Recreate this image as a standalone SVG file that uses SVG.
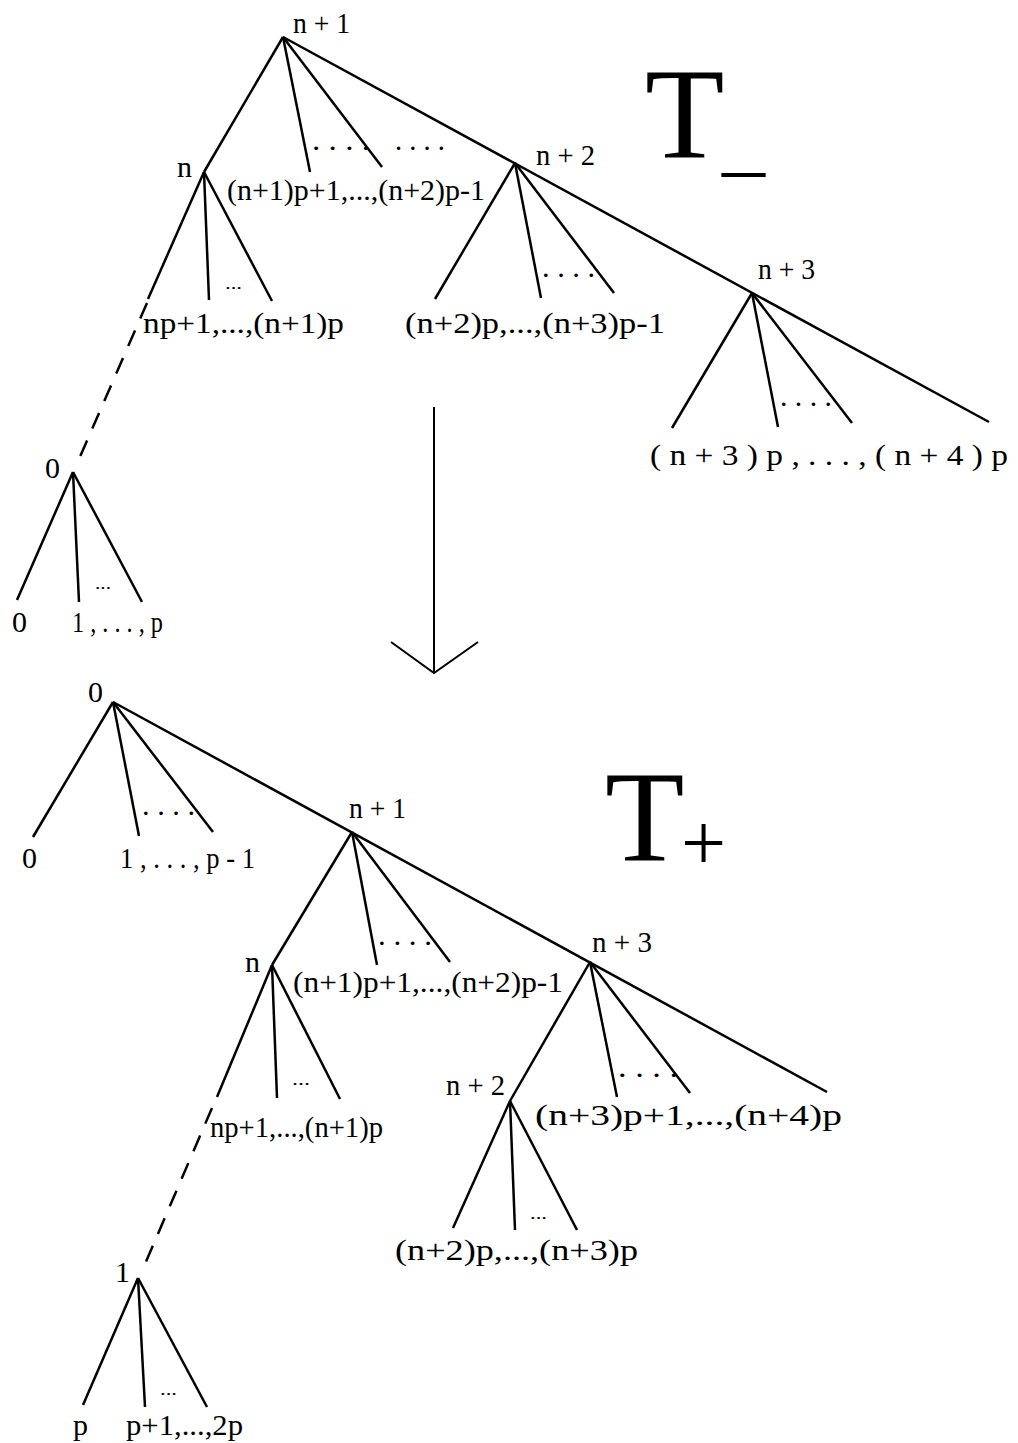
<svg xmlns="http://www.w3.org/2000/svg" width="1018" height="1443" viewBox="0 0 1018 1443">
<style>
text{font-family:"Liberation Serif","Times New Roman",serif;fill:#000}
.l{font-size:30px}
.s{font-size:16px}
.big{font-size:130px}
.sub{font-size:80px}
.e{stroke:#000;stroke-width:2.5;fill:none;stroke-linecap:butt}
.d{stroke-dasharray:17,13}
.a{stroke:#000;stroke-width:2;fill:none}
</style>
<rect width="1018" height="1443" fill="#fff"/>
<g id="connectors">
<line class="e" x1="283" y1="37" x2="204" y2="172"/>
<line class="e" x1="283" y1="37" x2="310" y2="172"/>
<line class="e" x1="283" y1="37" x2="382" y2="167"/>
<line class="e" x1="283" y1="37" x2="989" y2="422"/>
<line class="e" x1="204" y1="172" x2="148" y2="299"/>
<line class="e" x1="204" y1="172" x2="209" y2="300"/>
<line class="e" x1="204" y1="172" x2="272" y2="301"/>
<line class="e d" x1="147" y1="303" x2="76" y2="466"/>
<line class="e" x1="515" y1="163" x2="435" y2="299"/>
<line class="e" x1="515" y1="163" x2="541" y2="298"/>
<line class="e" x1="515" y1="163" x2="614" y2="293"/>
<line class="e" x1="752" y1="293" x2="672" y2="428"/>
<line class="e" x1="752" y1="293" x2="778" y2="427"/>
<line class="e" x1="752" y1="293" x2="852" y2="423"/>
<line class="e" x1="73" y1="472" x2="17" y2="600"/>
<line class="e" x1="73" y1="472" x2="79" y2="602"/>
<line class="e" x1="73" y1="472" x2="142" y2="602"/>
<line class="a" x1="434" y1="407" x2="434" y2="673"/>
<polyline class="a" points="391,642 434,673 478,642"/>
<line class="e" x1="113" y1="702" x2="33" y2="837"/>
<line class="e" x1="113" y1="702" x2="139" y2="836"/>
<line class="e" x1="113" y1="702" x2="213" y2="832"/>
<line class="e" x1="113" y1="702" x2="827" y2="1092"/>
<line class="e" x1="352" y1="832" x2="272" y2="965"/>
<line class="e" x1="352" y1="832" x2="377" y2="965"/>
<line class="e" x1="352" y1="832" x2="450" y2="962"/>
<line class="e" x1="272" y1="965" x2="217" y2="1097"/>
<line class="e" x1="272" y1="965" x2="277" y2="1098"/>
<line class="e" x1="272" y1="965" x2="340" y2="1099"/>
<line class="e d" x1="212" y1="1108" x2="142" y2="1271"/>
<line class="e" x1="590" y1="962" x2="510" y2="1101"/>
<line class="e" x1="590" y1="962" x2="617" y2="1097"/>
<line class="e" x1="590" y1="962" x2="690" y2="1093"/>
<line class="e" x1="510" y1="1101" x2="453" y2="1228"/>
<line class="e" x1="510" y1="1101" x2="515" y2="1230"/>
<line class="e" x1="510" y1="1101" x2="577" y2="1230"/>
<line class="e" x1="138" y1="1278" x2="83" y2="1405"/>
<line class="e" x1="138" y1="1278" x2="145" y2="1407"/>
<line class="e" x1="138" y1="1278" x2="207" y2="1407"/>
</g>
<g id="title-minus"><text class="big" x="645" y="157">T</text><text class="sub" x="722" y="167" textLength="43" lengthAdjust="spacingAndGlyphs">_</text></g>
<g id="title-plus"><text class="big" x="605" y="860">T</text><text class="sub" x="681" y="870">+</text></g>
<g id="top-n1"><text class="l" x="293" y="33" textLength="57" lengthAdjust="spacingAndGlyphs">n + 1</text>
<text class="l" x="312" y="150" textLength="58" lengthAdjust="spacingAndGlyphs">. . . .</text>
<text class="l" x="395" y="150" textLength="50" lengthAdjust="spacingAndGlyphs">. . . .</text>
<text class="l" x="227" y="200" textLength="258" lengthAdjust="spacingAndGlyphs">(n+1)p+1,...,(n+2)p-1</text></g>
<g id="top-n"><text class="l" x="177" y="177">n</text>
<text class="s" x="225" y="289" textLength="17" lengthAdjust="spacingAndGlyphs">...</text>
<text class="l" x="143" y="333" textLength="201" lengthAdjust="spacingAndGlyphs">np+1,...,(n+1)p</text></g>
<g id="top-n2"><text class="l" x="536" y="165" textLength="59" lengthAdjust="spacingAndGlyphs">n + 2</text>
<text class="l" x="542" y="277" textLength="53" lengthAdjust="spacingAndGlyphs">. . . .</text>
<text class="l" x="405" y="333" textLength="260" lengthAdjust="spacingAndGlyphs">(n+2)p,...,(n+3)p-1</text></g>
<g id="top-n3"><text class="l" x="758" y="279" textLength="57" lengthAdjust="spacingAndGlyphs">n + 3</text>
<text class="l" x="780" y="406" textLength="52" lengthAdjust="spacingAndGlyphs">. . . .</text>
<text class="l" x="650" y="465" textLength="358" lengthAdjust="spacingAndGlyphs">( n + 3 ) p , . . . , ( n + 4 ) p</text></g>
<g id="top-0"><text class="l" x="45" y="478">0</text>
<text class="s" x="95" y="589" textLength="16" lengthAdjust="spacingAndGlyphs">...</text>
<text class="l" x="12" y="632">0</text>
<text class="l" x="72" y="632" textLength="91" lengthAdjust="spacingAndGlyphs">1 , . . . , p</text></g>
<g id="bot-0"><text class="l" x="88" y="702">0</text>
<text class="l" x="142" y="815" textLength="53" lengthAdjust="spacingAndGlyphs">. . . .</text>
<text class="l" x="22" y="868">0</text>
<text class="l" x="120" y="868" textLength="135" lengthAdjust="spacingAndGlyphs">1 , . . . , p - 1</text></g>
<g id="bot-n1"><text class="l" x="349" y="818" textLength="57" lengthAdjust="spacingAndGlyphs">n + 1</text>
<text class="l" x="378" y="945" textLength="54" lengthAdjust="spacingAndGlyphs">. . . .</text>
<text class="l" x="293" y="992" textLength="270" lengthAdjust="spacingAndGlyphs">(n+1)p+1,...,(n+2)p-1</text></g>
<g id="bot-n"><text class="l" x="245" y="972">n</text>
<text class="s" x="292" y="1085" textLength="18" lengthAdjust="spacingAndGlyphs">...</text>
<text class="l" x="210" y="1137" textLength="173" lengthAdjust="spacingAndGlyphs">np+1,...,(n+1)p</text></g>
<g id="bot-n3"><text class="l" x="592" y="952" textLength="60" lengthAdjust="spacingAndGlyphs">n + 3</text>
<text class="l" x="618" y="1077" textLength="60" lengthAdjust="spacingAndGlyphs">. . . .</text>
<text class="l" x="535" y="1125" textLength="307" lengthAdjust="spacingAndGlyphs">(n+3)p+1,...,(n+4)p</text></g>
<g id="bot-n2"><text class="l" x="446" y="1095" textLength="59" lengthAdjust="spacingAndGlyphs">n + 2</text>
<text class="s" x="530" y="1219" textLength="17" lengthAdjust="spacingAndGlyphs">...</text>
<text class="l" x="395" y="1260" textLength="243" lengthAdjust="spacingAndGlyphs">(n+2)p,...,(n+3)p</text></g>
<g id="bot-1"><text class="l" x="115" y="1282">1</text>
<text class="s" x="160" y="1395" textLength="17" lengthAdjust="spacingAndGlyphs">...</text>
<text class="l" x="73" y="1435">p</text>
<text class="l" x="126" y="1435" textLength="117" lengthAdjust="spacingAndGlyphs">p+1,...,2p</text></g>
</svg>
